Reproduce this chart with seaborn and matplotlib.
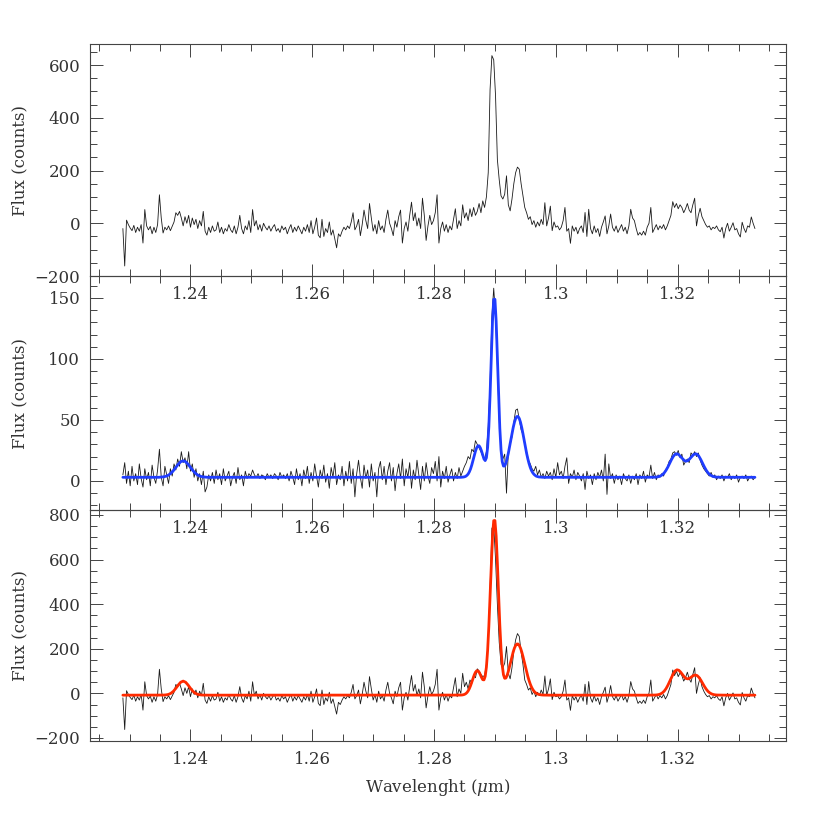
import numpy as np
import matplotlib
matplotlib.use("Agg")
import matplotlib.pyplot as plt
from matplotlib.ticker import MultipleLocator, FuncFormatter
import seaborn as sns

# wavelength calibration of the extracted spectra (first pixel, step per pixel, micron)
wave_start = 1.2289
wave_step = 0.0003

# raw spectrum (top panel), counts per pixel
flux_raw = [
    -20, -162, 12, -5, -18, -28, -8, -35, -15, -30, -5, -75, 52, -10, -25, -12, -40, -15, -35, -5,
    108, 20, -37, -15, -25, -10, -28, -12, 5, 40, 30, 45, 20, -10, 25, 0, 30, -15, 20, -5,
    15, -20, 10, -10, 45, -30, -45, -15, -35, -10, -30, -25, 5, -35, -15, -40, -20, -30, -5, -25,
    -35, -10, -40, -15, 30, -20, -40, -10, -25, 10, -35, 52, -10, 10, -25, -5, -30, 0, -15, -25,
    -10, -30, -15, -5, -30, -20, -35, -10, -25, -15, -40, -20, -5, -35, -15, -30, -10, -25, -40, -15,
    -30, -5, -35, 10, -40, -15, 20, -45, -55, 15, -50, -20, -35, 5, -45, -25, -60, -93, -40, -50,
    -30, -15, -25, -10, -20, 5, 40, -25, -10, 15, -47, -5, 50, 10, -20, 75, 20, -30, -5, -40,
    10, -25, -10, -35, 15, 50, 0, -20, -47, 10, -15, 25, 50, -75, -20, 5, -30, 30, 80, 10,
    40, -10, 20, -20, 95, 30, -65, -10, 30, -5, 10, 40, 108, -75, -20, 5, -30, -5, -35, -10,
    -25, 15, 55, -20, 10, -10, 70, 20, 40, 10, 55, 25, 60, 30, 45, 75, 40, 85, 60, 100,
    192, 507, 636, 620, 483, 242, 166, 104, 92, 110, 180, 70, 47, 92, 150, 192, 213, 205, 150, 104,
    60, 40, 15, 25, -5, 10, -15, 5, -10, 15, -5, 78, -10, 20, 65, -28, 5, -15, -10, -25,
    -15, 10, 60, -30, -20, -76, -10, -30, -15, -40, -20, -10, -35, 41, -50, 53, -20, -40, -10, -35,
    -20, -50, -15, 5, 28, -40, -10, 35, -15, -30, -10, -35, -20, -5, -30, -15, -40, -10, 53, 20,
    10, -20, -45, -35, -45, -30, -45, -15, 0, 60, -35, -20, -5, -25, -10, -20, -5, -25, -10, 10,
    30, 82, 60, 75, 55, 70, 60, 40, 55, 75, 50, 40, 70, 95, -10, 30, 57, 25, 10, -5,
    -15, -10, -25, -15, -20, -10, -25, -32, -15, -56, -20, 0, -30, -15, 2, -25, -20, -40, -52, 4,
    -20, -35, -10, -15, 24, 0, -20,
]

# second spectrum (middle panel)
flux_gauss = [
    5, 15, -2, 8, -4, 12, 0, 6, -3, 14, 2, -5, 10, 1, 7, -4, 13, 3, -2, 9,
    26, 3, -4, 12, 5, -2, 10, 4, 14, 9, 18, 12, 24, 15, 19, 10, 24, 8, 14, 3,
    10, 0, 6, -3, 8, -9, -5, 5, 0, 7, -2, 9, 1, 6, -3, 10, 0, 4, 8, -4,
    3, 7, -2, 11, 1, 5, -4, 8, 2, 6, 4, 9, 5, 3, 6, 2, 5, 4, 1, 6,
    3, 5, 2, 6, 4, 1, 7, 3, 5, 2, 6, 0, 8, 3, -3, 10, 1, 6, -4, 9,
    2, 12, -2, 7, 0, 14, 4, -5, 9, 2, 13, -1, 6, -6, 11, 3, 15, -3, 5, 1,
    12, -4, 8, 0, 16, -2, 10, -13, 6, 17, 3, -6, 13, 2, 9, -5, 14, 0, 7, -13,
    10, 16, 1, 12, -3, 8, 15, 0, 11, -8, 6, 14, 2, 18, -4, 10, 3, 15, -6, 9,
    1, 17, 5, -7, 12, 0, 15, 4, -2, 11, 6, 16, 0, 20, -5, 8, 2, 12, -1, 5,
    10, 0, 7, 2, 11, 4, 8, 12, 15, 20, 18, 26, 24, 33, 30, 27, 24, 20, 18, 24,
    45, 80, 135, 158, 135, 95, 50, 25, 18, 22, -10, 24, 30, 36, 48, 58, 59, 50, 42, 38,
    30, 24, 17, 14, 10, 8, 12, 5, 9, 3, 6, 2, 8, 4, 7, 1, 10, 3, 15, 5,
    8, 2, 12, 19, -2, 6, 3, 9, 1, 7, 4, 0, 6, -7, 8, 2, 5, -3, 6, 1,
    7, 3, 9, 0, 22, -11, 14, 2, 6, -2, 5, 1, 4, -3, 6, 2, 0, 5, -2, 4,
    1, 6, -3, 5, 2, 8, -1, 5, 3, 13, 2, 7, 1, 5, 3, 6, 4, 9, 11, 16,
    18, 23, 24, 21, 25, 19, 22, 13, 16, 18, 15, 23, 21, 24, 20, 23, 17, 13, 10, 8,
    6, 4, 7, 3, 5, 1, 4, 2, 5, 0, 4, 3, 6, 1, 4, 2, 5, -1, 3, 4,
    2, 5, 0, 3, 4, 1, 3,
]

# bottom panel spectrum: same as raw except around the emission lines
obs_lines_slice = (180, 220)
obs_lines = [
    -20, 25, 70, -15, 20, 0, 90, 30, 50, 20, 60, 45, 80, 70, 110, 100, 85, 75, 80, 130,
    240, 470, 740, 755, 600, 400, 230, 130, 115, 135, 210, 90, 65, 115, 190, 240, 268, 255, 185, 130,
]
obs_red_slice = (296, 319)
obs_red = [-5, -25, -10, 15, 40, 105, 80, 100, 75, 92, 80, 55, 70, 95, 65, 50, 85, 115, 0, 40, 70, 30, 10]

# fitted models, sampled on their own wavelength grid
fit_wave = [
    1.2289, 1.2330,
    1.2348, 1.2352, 1.2356, 1.2360, 1.2364, 1.2368, 1.2372, 1.2376, 1.2380, 1.2384, 1.2388,
    1.2392, 1.2396, 1.2400, 1.2404, 1.2408, 1.2412, 1.2416, 1.2420, 1.2424, 1.2428,
    1.2450, 1.2830,
    1.2844, 1.2846, 1.2848, 1.2850, 1.2852, 1.2854, 1.2856, 1.2858, 1.2860, 1.2862,
    1.2864, 1.2866, 1.2868, 1.2870, 1.2872, 1.2874, 1.2876, 1.2878, 1.2880, 1.2882,
    1.2884, 1.2886, 1.2888, 1.2890, 1.2892, 1.2894, 1.2896, 1.2898, 1.2900, 1.2902,
    1.2904, 1.2906, 1.2908, 1.2910, 1.2912, 1.2914, 1.2916, 1.2918, 1.2920, 1.2922,
    1.2924, 1.2926, 1.2928, 1.2930, 1.2932, 1.2934, 1.2936, 1.2938, 1.2940, 1.2942,
    1.2944, 1.2946, 1.2948, 1.2950, 1.2952, 1.2954, 1.2956, 1.2958, 1.2960, 1.2962,
    1.2964, 1.2966, 1.2968, 1.2970, 1.2972, 1.2974, 1.2976, 1.2978, 1.2980,
    1.2990, 1.3150,
    1.3163, 1.3166, 1.3169, 1.3172, 1.3175, 1.3178, 1.3181, 1.3184, 1.3187, 1.3190,
    1.3193, 1.3196, 1.3199, 1.3202, 1.3205, 1.3208, 1.3211, 1.3214, 1.3217, 1.3220,
    1.3223, 1.3226, 1.3229, 1.3232, 1.3235, 1.3238, 1.3241, 1.3244, 1.3247, 1.3250,
    1.3253, 1.3256, 1.3259, 1.3262, 1.3265,
    1.3280, 1.3327,
]
fit_blue = [
    3.0, 3.0,
    3.0, 3.2, 3.4, 3.9, 4.8, 6.4, 8.5, 11.2, 13.8, 15.8, 16.5,
    15.8, 13.8, 11.2, 8.5, 6.4, 4.8, 3.9, 3.4, 3.2, 3.0,
    3.0, 3.0,
    3.0, 3.1, 3.2, 3.4, 3.8, 4.6, 5.7, 7.5, 9.9, 13.1,
    16.8, 20.7, 24.4, 27.2, 28.8, 28.8, 27.2, 24.5, 21.1, 18.0,
    16.7, 19.0, 27.5, 44.5, 70.4, 101.7, 131.0, 148.9, 148.9, 131.0,
    101.5, 69.7, 43.4, 25.5, 15.8, 12.2, 12.3, 14.6, 18.3, 22.7,
    27.9, 33.3, 38.8, 43.8, 48.1, 51.2, 52.8, 52.8, 51.2, 48.1,
    43.8, 38.8, 33.3, 27.9, 22.7, 18.2, 14.3, 11.1, 8.6, 6.8,
    5.5, 4.6, 3.9, 3.6, 3.3, 3.2, 3.1, 3.05, 3.0,
    3.0, 3.0,
    3.12, 3.28, 3.59, 4.16, 5.14, 6.63, 8.76, 11.45, 14.5, 17.6,
    20.2, 21.9, 22.3, 21.5, 19.9, 18.2, 16.75, 16.2, 16.75, 18.2,
    19.9, 21.5, 22.3, 21.9, 20.2, 17.6, 14.5, 11.45, 8.76, 6.63,
    5.14, 4.16, 3.59, 3.28, 3.12,
    3.0, 3.0,
]
fit_red = [
    -8.0, -8.0,
    -8.0, -7.9, -7.6, -6.7, -4.5, 0.5, 9.5, 22.7, 37.7, 50.1, 55.0,
    50.1, 37.7, 22.7, 9.5, 0.5, -4.5, -6.7, -7.6, -7.9, -8.0,
    -8.0, -8.0,
    -7.6, -7.2, -6.2, -4.5, -1.4, 3.5, 11.0, 21.4, 34.7, 50.4,
    67.0, 82.5, 94.5, 101.1, 101.2, 95.0, 84.0, 71.3, 61.4, 60.5,
    76.5, 117.9, 192.3, 301.3, 437.8, 581.8, 703.7, 774.3, 774.9, 705.5,
    584.8, 442.5, 307.1, 199.1, 125.1, 83.7, 67.5, 68.7, 80.6, 98.8,
    120.4, 143.2, 165.6, 186.1, 202.9, 214.9, 221.2, 221.2, 214.9, 202.9,
    186.1, 165.6, 143.1, 119.9, 97.3, 76.3, 57.7, 41.7, 28.6, 18.2,
    10.3, 4.4, 0.2, -2.8, -4.7, -6.0, -6.8, -7.3, -7.6,
    -8.0, -8.0,
    -7.5, -6.8, -5.3, -2.5, 2.4, 10.1, 21.3, 36.2, 53.8, 72.2,
    88.8, 100.6, 105.7, 103.4, 95.2, 84.0, 73.6, 66.7, 65.0, 68.4,
    74.3, 79.9, 82.3, 79.8, 71.9, 59.8, 45.5, 31.2, 18.7, 8.8,
    1.9, -2.6, -5.3, -6.7, -7.4,
    -8.0, -8.0,
]

wave = wave_start + wave_step * np.arange(len(flux_raw))
flux_fit_obs = list(flux_raw)
flux_fit_obs[obs_lines_slice[0]:obs_lines_slice[1]] = obs_lines
flux_fit_obs[obs_red_slice[0]:obs_red_slice[1]] = obs_red

sns.set_theme(style="ticks")
plt.rcParams["font.family"] = ["DejaVu Serif"]
plt.rcParams["mathtext.fontset"] = "dejavuserif"
txt = "#333333"

fig = plt.figure(figsize=(8.3, 8.3), dpi=100)
left, width = 90 / 830, 696 / 830
ax_top = fig.add_axes([left, 1 - 276 / 830, width, 232 / 830])
ax_mid = fig.add_axes([left, 1 - 510 / 830, width, 234 / 830])
ax_bot = fig.add_axes([left, 1 - 741 / 830, width, 231 / 830])

panels = [
    (ax_top, flux_raw, None, None, (-200, 680), 200, 50),
    (ax_mid, flux_gauss, fit_blue, "#1f3dff", (-23.8, 168), 50, 10),
    (ax_bot, flux_fit_obs, fit_red, "#ff2a00", (-213.5, 822), 200, 50),
]

for ax, flux, fit, color, ylim, ymaj, ymin in panels:
    ax.set_facecolor("none")
    sns.lineplot(x=wave, y=flux, ax=ax, color="#1a1a1a", linewidth=0.6)
    if fit is not None:
        sns.lineplot(x=fit_wave, y=fit, ax=ax, color=color, linewidth=2.0)
    ax.set_xlim(1.2235, 1.3378)
    ax.set_ylim(*ylim)
    ax.xaxis.set_major_locator(MultipleLocator(0.02))
    ax.xaxis.set_minor_locator(MultipleLocator(0.005))
    ax.yaxis.set_major_locator(MultipleLocator(ymaj))
    ax.yaxis.set_minor_locator(MultipleLocator(ymin))
    ax.xaxis.set_major_formatter(FuncFormatter(lambda v, p: f"{v:g}"))
    ax.tick_params(which="both", direction="in", top=True, right=True,
                   width=0.7, colors="#444444", labelcolor=txt, labelsize=12)
    ax.tick_params(which="major", length=9, pad=7)
    ax.tick_params(which="minor", length=5)
    for s in ax.spines.values():
        s.set_linewidth(0.8)
        s.set_color("#444444")
    ax.set_ylabel("Flux (counts)", fontsize=12, color=txt)
    ax.yaxis.set_label_coords(-0.088, 0.5)
    ax.set_xlabel("")

ax_bot.set_xlabel(r"Wavelenght ($\mu$m)", fontsize=12, color=txt, labelpad=7)

fig.savefig("out.png", dpi=100, facecolor="white")
